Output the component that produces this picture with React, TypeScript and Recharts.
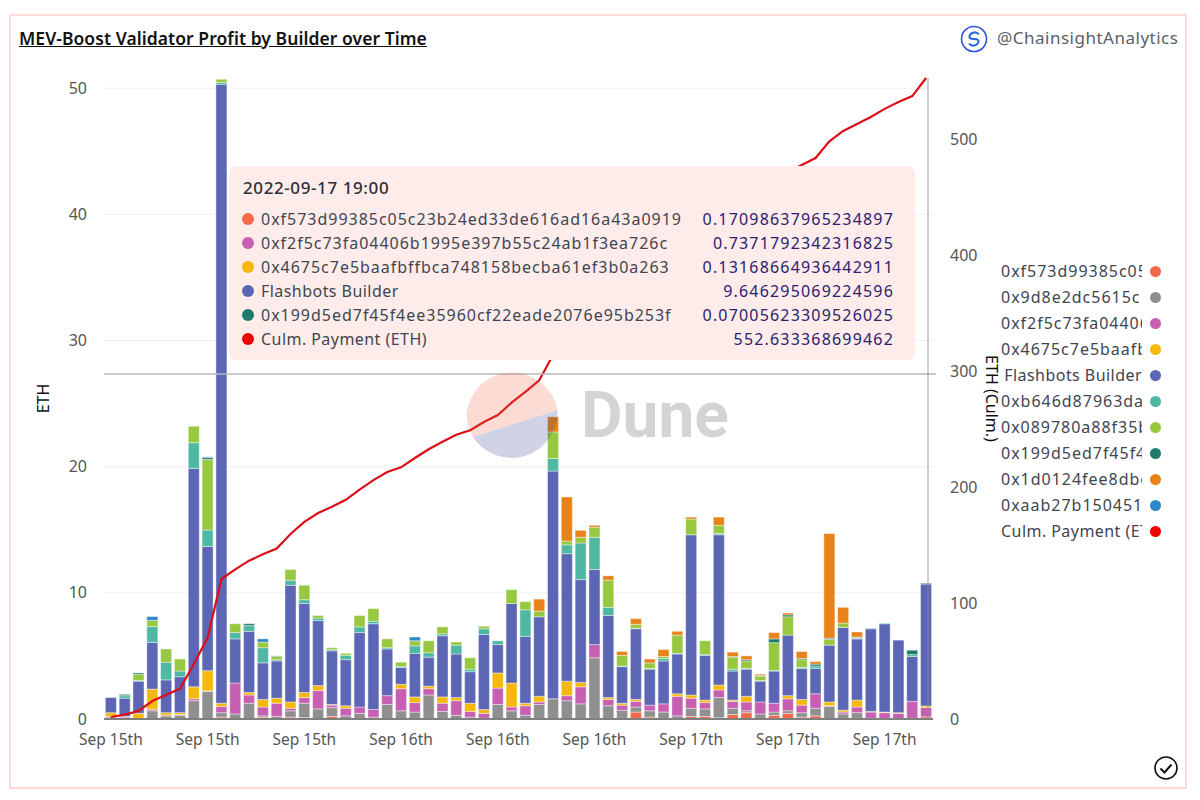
import { Bar, CartesianGrid, ComposedChart, Line, ReferenceLine, Tooltip, XAxis, YAxis } from "recharts";

const hours = [
  "2022-09-15 08:00", "2022-09-15 09:00", "2022-09-15 10:00", "2022-09-15 11:00", "2022-09-15 12:00", "2022-09-15 13:00",
  "2022-09-15 14:00", "2022-09-15 15:00", "2022-09-15 16:00", "2022-09-15 17:00", "2022-09-15 18:00", "2022-09-15 19:00",
  "2022-09-15 20:00", "2022-09-15 21:00", "2022-09-15 22:00", "2022-09-15 23:00", "2022-09-16 00:00", "2022-09-16 01:00",
  "2022-09-16 02:00", "2022-09-16 03:00", "2022-09-16 04:00", "2022-09-16 05:00", "2022-09-16 06:00", "2022-09-16 07:00",
  "2022-09-16 08:00", "2022-09-16 09:00", "2022-09-16 10:00", "2022-09-16 11:00", "2022-09-16 12:00", "2022-09-16 13:00",
  "2022-09-16 14:00", "2022-09-16 15:00", "2022-09-16 16:00", "2022-09-16 17:00", "2022-09-16 18:00", "2022-09-16 19:00",
  "2022-09-16 20:00", "2022-09-16 21:00", "2022-09-16 22:00", "2022-09-16 23:00", "2022-09-17 00:00", "2022-09-17 01:00",
  "2022-09-17 02:00", "2022-09-17 03:00", "2022-09-17 04:00", "2022-09-17 05:00", "2022-09-17 06:00", "2022-09-17 07:00",
  "2022-09-17 08:00", "2022-09-17 09:00", "2022-09-17 10:00", "2022-09-17 11:00", "2022-09-17 12:00", "2022-09-17 13:00",
  "2022-09-17 14:00", "2022-09-17 15:00", "2022-09-17 16:00", "2022-09-17 17:00", "2022-09-17 18:00", "2022-09-17 19:00",
];

const f573 = [0,0,0,0,0,0,0,.03,.15,0, 0,.15,0,.15,.1,0,.2,0,0,0, 0,0,0,0,0,0,0,0,0,0, .05,0,0,0,0,.05,0,.05,.55,.15, .05,.05,.2,.2,.1,.35,.5,.05,.3,.45, .15,.25,0,.05,0,0,0,0,0,.17];
const x9d8e = [.15,.05,0,.65,.25,.3,1.45,2.15,.35,.4, 1.25,.1,.2,.5,1.15,.8,.7,.25,.45,.15, 1.15,.65,.55,1.9,.6,.3,.15,.05,1.15,.65, .25,1.15,1.6,1.45,1.2,4.8,1.05,.65,.4,.5, .5,.2,.65,.6,1.6,.5,.15,.35,.25,.2, .35,.6,1,.35,.5,.05,0,0,.05,0];
const f2f5 = [.05,.1,0,.12,.05,.05,.15,.05,.5,2.45, .65,.7,1.05,.2,.45,1.45,.2,.6,.5,.6, .7,1.75,.75,.5,.65,1.15,.45,.4,1.3,.3, .75,.2,0,.4,1.35,1.05,.5,.4,.45,.45, .65,1.55,.8,.5,.6,.55,.7,.95,.7,.95, .6,1.15,.05,.15,.45,.5,.5,.45,1.35,.74];
const x4675 = [.3,.05,.45,1.6,.2,.15,.95,1.6,.25,0, .2,.6,.4,.5,.4,.4,.05,.2,0,0, 0,.35,.45,.2,.5,.25,.65,.3,1.2,1.9, .2,.45,0,1.15,.35,0,.15,.15,.15,0, 0,.2,.25,.2,.4,.1,.45,0,0,.25, .45,0,.3,.15,.55,.05,.05,.05,0,.13];
const flashbots = [1.2,1.45,2.55,3.7,2.6,2.85,17.3,9.85,49.05,3.5, 4.85,2.9,2.95,9.25,7.05,5.15,4.25,3.65,5.9,6.8, 3.7,1.35,3.45,2.3,4.85,3.45,2.5,5.95,2.25,6.3, 5.3,6.3,18.05,10.1,8.15,5.95,6.5,2.9,5.6,2.85, 3.4,3.15,12.7,3.55,11.9,2.3,2.15,1.65,2.55,4.8, 2.45,2,4.5,6.55,4.85,6.55,7,5.75,3.55,9.65];
const b646 = [0,.2,.05,1.25,1.4,.45,2.05,1.3,.15,.5, .45,1.2,.1,.4,.3,.2,.1,.35,.45,.2, .1,.05,.6,.35,.15,.7,.2,.45,.3,0, 2.1,0,1,.7,2.9,2.55,.65,.05,.05,.05, .2,.05,0,.05,.1,.15,.05,.05,.05,0, .1,.2,0,0,.05,.05,.05,0,.15,0];
const x0897 = [0,0,.5,.5,1.05,.95,1.3,5.6,.25,.7, 0,.45,.25,.85,1.15,.2,.15,.15,.9,1, .7,.35,.4,.95,.55,.25,.9,.2,0,1.1, .65,.45,2.1,.3,.45,.8,2.15,.85,.3,.45, .15,1.45,1.25,1.1,.65,.95,.6,.35,2.2,1.45, .6,0,.45,.35,.05,0,0,0,0,0];
const x199d = [0,.1,.1,0,0,0,0,.15,0,0, .15,0,.05,0,0,0,0,0,0,0, 0,0,0,0,0,0,0,0,0,0, 0,0,0,0,0,0,0,0,0,0, 0,0,0,0,0,.05,.1,.05,.3,.15, .1,.15,.1,0,.05,0,0,0,.35,.07];
const x1d01 = [0,0,0,0,0,0,0,0,0,0, 0,0,0,0,0,0,0,0,0,0, 0,0,0,0,0,0,0,0,0,0, 0,.95,1.2,3.5,.55,.15,.35,.3,.45,.3, .55,.3,.15,0,.65,.35,.3,.1,.5,.15, .55,.2,8.3,1.25,.4,0,0,0,0,0];
const aab2 = [0,0,0,.3,0,0,0,.05,0,0, 0,.25,0,0,0,0,0,0,0,0, 0,0,.3,0,0,0,0,0,0,0, 0,0,0,0,0,0,0,0,0,0, 0,0,0,0,0,0,0,0,0,0, 0,0,0,0,0,0,0,0,0,0];
const culmPayment = [1.7,3.7,7,15.5,21,26,47.4,70,120.7,129, 136.5,142,147,159.5,170,177.6,183,189,197.7,206, 213,217,225,232.5,239,245,249,256,262,272.7, 282,292,313.8,331.6,346.6,362,373.4,378.8,386.7,391.5, 397,404,420,426,442,447.5,452.5,456,463,472, 477.6,483.6,498,507,513,519,526,532,537,552.63];

const builders = [
  { key: "f573", name: "0xf573d99385c05c23b24ed33de616ad16a43a0919", color: "#f4694a", values: f573 },
  { key: "x9d8e", name: "0x9d8e2dc5615c", color: "#8f8f8f", values: x9d8e },
  { key: "f2f5", name: "0xf2f5c73fa04406b1995e397b55c24ab1f3ea726c", color: "#c75fb3", values: f2f5 },
  { key: "x4675", name: "0x4675c7e5baafbffbca748158becba61ef3b0a263", color: "#f5b90e", values: x4675 },
  { key: "flashbots", name: "Flashbots Builder", color: "#5c66b5", values: flashbots },
  { key: "b646", name: "0xb646d87963da", color: "#4fb8a3", values: b646 },
  { key: "x0897", name: "0x089780a88f35b", color: "#97c83f", values: x0897 },
  { key: "x199d", name: "0x199d5ed7f45f4ee35960cf22eade2076e95b253f", color: "#1f7a6c", values: x199d },
  { key: "x1d01", name: "0x1d0124fee8dbe", color: "#e8831a", values: x1d01 },
  { key: "aab2", name: "0xaab27b150451", color: "#2f88c9", values: aab2 },
];
const culmName = "Culm. Payment (ETH)";
const culmColor = "#f00000";

const leftTicks = [0, 10, 20, 30, 40, 50];
const rightTicks = [0, 100, 200, 300, 400, 500];

const tooltipTitle = "2022-09-17 19:00";
const tooltipNames = [
  "0xf573d99385c05c23b24ed33de616ad16a43a0919",
  "0xf2f5c73fa04406b1995e397b55c24ab1f3ea726c",
  "0x4675c7e5baafbffbca748158becba61ef3b0a263",
  "Flashbots Builder",
  "0x199d5ed7f45f4ee35960cf22eade2076e95b253f",
  culmName,
];
const tooltipColors = ["#f4694a", "#c75fb3", "#f5b90e", "#5c66b5", "#1f7a6c", culmColor];
const tooltipValues = [
  "0.17098637965234897",
  "0.7371792342316825",
  "0.13168664936442911",
  "9.646295069224596",
  "0.07005623309526025",
  "552.633368699462",
];

const chartData = hours.map((hour, i) => {
  const row: Record<string, string | number> = { hour, culm: culmPayment[i] };
  builders.forEach((b) => {
    row[b.key] = b.values[i];
  });
  return row;
});

const font = "'Noto Sans', sans-serif";

function formatDay(hour: string) {
  return "Sep " + hour.slice(8, 10) + "th";
}

// hex addresses run wider in the original face than in Noto Sans
function nameSpacing(name: string) {
  return name.startsWith("0x") ? 0.98 : 0.45;
}

function PinnedTooltip() {
  return (
    <div style={{ width: 686, height: 194, boxSizing: "border-box", background: "#feeceb", borderRadius: 8, fontFamily: font, position: "relative" }}>
      <div style={{ position: "absolute", left: 14, top: 10, fontSize: 17, fontWeight: 500, color: "#2c2f38", letterSpacing: 0.6, whiteSpace: "nowrap" }}>{tooltipTitle}</div>
      {tooltipNames.map((name, i) => (
        <div key={name} style={{ position: "absolute", left: 13, right: 21, top: 41 + i * 24, height: 24, lineHeight: "24px", fontSize: 16, display: "flex", justifyContent: "space-between" }}>
          <span style={{ color: "#41454f", letterSpacing: nameSpacing(name), display: "flex", alignItems: "center", gap: 7, whiteSpace: "nowrap" }}>
            <span style={{ width: 12, height: 12, borderRadius: 6, background: tooltipColors[i], display: "inline-block" }} />
            {name}
          </span>
          <span style={{ color: "#2b2170", letterSpacing: 1.18 }}>{tooltipValues[i]}</span>
        </div>
      ))}
    </div>
  );
}

function BuilderLegend() {
  const rows = [...builders.map((b) => ({ name: b.name, color: b.color })), { name: culmName, color: culmColor }];
  return (
    <div style={{ position: "absolute", left: 1001, top: 258, width: 160, fontFamily: font, fontSize: 16 }}>
      {rows.map((r) => (
        <div key={r.name} style={{ height: 26, lineHeight: "26px", display: "flex", alignItems: "center" }}>
          <div style={{ width: 141, overflow: "hidden", whiteSpace: "nowrap", textAlign: r.name.startsWith("0x") ? "left" : "right", color: "#41454f", letterSpacing: nameSpacing(r.name) }}>{r.name}</div>
          <span style={{ width: 11, height: 11, borderRadius: 6, background: r.color, marginLeft: 8, flex: "none" }} />
        </div>
      ))}
    </div>
  );
}

export default function App() {
  return (
    <div style={{ position: "fixed", left: 0, top: 0, width: 1200, height: 800, background: "#fff", overflow: "hidden" }}>
      <div style={{ position: "absolute", left: 9, top: 14, width: 1178, height: 775, border: "2px solid #fbdcd8", boxSizing: "border-box" }} />
      <div style={{ position: "absolute", left: 19, top: 26, fontFamily: font, fontSize: 17.5, fontWeight: 600, color: "#111", textDecoration: "underline", whiteSpace: "nowrap", letterSpacing: 0.06 }}>
        MEV-Boost Validator Profit by Builder over Time
      </div>
      <div style={{ position: "absolute", left: 997, top: 26, fontFamily: font, fontSize: 17, color: "#5b5f68", whiteSpace: "nowrap", letterSpacing: 0.5 }}>@ChainsightAnalytics</div>
      <svg style={{ position: "absolute", left: 960, top: 25 }} width={28} height={28} viewBox="0 0 28 28">
        <circle cx={14} cy={14} r={12.5} fill="#fff" stroke="#3154d8" strokeWidth={1.6} />
        <path d="M19 9.5a5.5 5.5 0 0 0-9.5 1.5c-.6 2.4 1.5 3 4.5 3s5.1.6 4.5 3A5.5 5.5 0 0 1 9 18.5" fill="none" stroke="#2563d9" strokeWidth={2} />
      </svg>

      <ComposedChart
        width={1200}
        height={800}
        data={chartData}
        margin={{ top: 78, right: 207, bottom: 51, left: 20 }}
        barCategoryGap="10%"
        style={{ position: "absolute", left: 0, top: 0, fontFamily: font }}
      >
        <CartesianGrid horizontal vertical={false} stroke="#eef0f2" yAxisId="left" syncWithTicks />
        <XAxis
          dataKey="hour"
          interval={6}
          height={30}
          tickFormatter={formatDay}
          tickLine={false}
          axisLine={{ stroke: "#7f7f7f", strokeWidth: 2 }}
          tick={{ fill: "#555", fontSize: 15.5 }}
          tickMargin={9}
        />
        <YAxis
          yAxisId="left"
          width={84}
          domain={[0, 50.8]}
          ticks={leftTicks}
          tickLine={false}
          axisLine={false}
          tick={{ fill: "#555", fontSize: 16 }}
          tickMargin={11}
          label={{ value: "ETH", angle: -90, position: "center", dx: -19, fill: "#111", fontSize: 16 }}
        />
        <YAxis
          yAxisId="right"
          orientation="right"
          width={60}
          domain={[0, 552.63]}
          ticks={rightTicks}
          tickLine={false}
          axisLine={false}
          tick={{ fill: "#555", fontSize: 16 }}
          tickMargin={11}
          label={{ value: "ETH (Culm.)", angle: 90, position: "center", dx: 29, fill: "#111", fontSize: 16 }}
        />
        {builders.map((b) => (
          <Bar key={b.key} yAxisId="left" dataKey={b.key} name={b.name} stackId="builders" fill={b.color} stroke="#fff" strokeWidth={0.4} isAnimationActive={false} />
        ))}
        <Line yAxisId="right" dataKey="culm" name={culmName} stroke="#dc0f17" strokeWidth={2.2} dot={false} activeDot={false} isAnimationActive={false} />
        <ReferenceLine yAxisId="left" y={27.34} stroke="#b9b9b9" strokeWidth={1.5} />
        <Tooltip active defaultIndex={59} cursor={false} position={{ x: 229, y: 166 }} content={<PinnedTooltip />} isAnimationActive={false} wrapperStyle={{ zIndex: 5 }} />
      </ComposedChart>

      <svg style={{ position: "absolute", left: 0, top: 0, pointerEvents: "none" }} width={1200} height={800}>
        <line x1={928} y1={78} x2={928} y2={719} stroke="#8a8a8a" strokeOpacity={0.55} strokeWidth={1.5} />
        <line x1={933} y1={374} x2={936} y2={374} stroke="#b9b9b9" strokeWidth={1.5} />
        <g opacity={0.22}>
          <path d="M466.5 414 a46 46 0 0 1 91 -4 L473 437 a46 46 0 0 1 -6.5 -23z" fill="#f4603e" />
          <path d="M473 437 L557.5 410 a46 46 0 0 1 -84.5 27z" fill="#2b3a8c" />
        </g>
        <text x={581} y={437} fontFamily="Roboto, sans-serif" fontSize={64} fontWeight={700} fill="#000" fillOpacity={0.17}>Dune</text>
        <circle cx={1166} cy={768} r={11} fill="none" stroke="#111" strokeWidth={1.6} />
        <path d="M1160.5 768.5 l4 4 l7 -8" fill="none" stroke="#111" strokeWidth={2} />
      </svg>

      <BuilderLegend />
    </div>
  );
}
